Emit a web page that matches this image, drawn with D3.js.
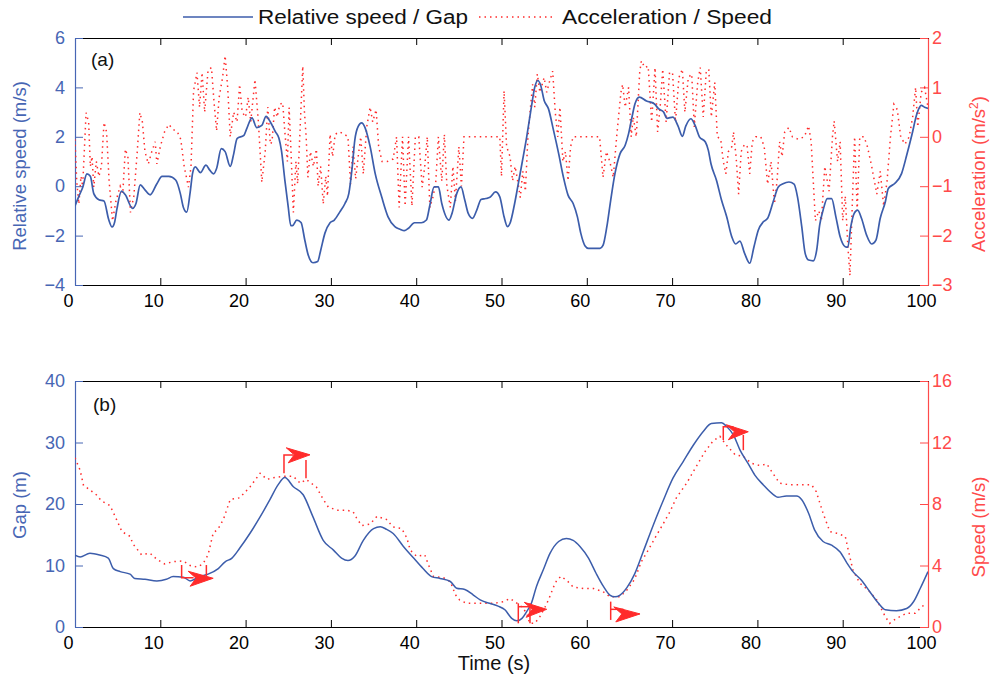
<!DOCTYPE html>
<html><head><meta charset="utf-8">
<script src="https://cdn.jsdelivr.net/npm/d3@7"></script>
<style>body{margin:0;background:#fff}svg{display:block}</style>
</head><body>
<svg id="c" width="995" height="679"></svg>
<script>
// ---------- data ----------
const xTicks = [0,10,20,30,40,50,60,70,80,90,100];
const relSpeedTicks = [-4,-2,0,2,4,6];
const accelTicks = [-3,-2,-1,0,1,2];
const gapTicks = [0,10,20,30,40];
const speedTicks = [0,4,8,12,16];
const legendLabels = ["Relative speed / Gap", "Acceleration / Speed"];

const relSpeed = [[0,-0.8],[0.4,-0.45],[0.9,-0.05],[1.4,0.5],[1.8,0.4],[2.2,-0.3],[2.8,-0.55],[3.4,-0.6],[3.95,-1.35],[4.35,-1.65],[4.65,-1.45],[4.9,-0.95],[5.45,-0.2],[5.9,-0.35],[6.75,-0.9],[7.15,-0.7],[7.65,0.05],[8.2,-0.15],[8.8,-0.35],[9.6,0.1],[10.2,0.4],[11.0,0.4],[11.8,0.25],[12.35,-0.3],[12.7,-0.85],[13.1,-1.05],[13.5,-0.25],[13.8,0.55],[14.1,0.78],[14.7,0.55],[15.35,0.85],[15.8,0.65],[16.25,0.5],[16.6,0.72],[17.15,1.52],[17.6,1.4],[18.2,0.8],[18.6,1.3],[19.0,1.93],[19.8,2.06],[20.1,2.3],[20.75,2.77],[21.3,2.37],[21.9,2.46],[22.4,2.83],[22.9,2.6],[23.5,2.2],[23.9,1.95],[24.2,1.45],[24.6,0.25],[25.0,-0.85],[25.3,-1.6],[25.5,-1.6],[26.0,-1.37],[26.5,-1.47],[26.95,-2.2],[27.35,-2.8],[27.9,-3.1],[28.45,-3.05],[28.8,-2.6],[29.3,-1.9],[29.9,-1.48],[30.4,-1.37],[31.05,-1.04],[31.65,-0.7],[32.1,-0.3],[32.5,0.78],[32.8,1.86],[33.2,2.42],[33.6,2.56],[34.0,2.37],[34.6,1.6],[35.2,0.5],[35.95,-0.43],[36.7,-1.24],[37.5,-1.64],[38.1,-1.74],[38.6,-1.8],[39.1,-1.7],[39.8,-1.48],[40.6,-1.48],[41.2,-1.37],[41.6,-0.77],[42.1,-0.03],[42.6,-0.03],[43.0,-0.7],[43.85,-1.37],[44.2,-1.1],[44.75,-0.3],[45.25,-0.03],[45.7,-0.57],[46.1,-1.1],[46.6,-1.3],[47.1,-0.97],[47.6,-0.54],[48.15,-0.5],[48.65,-0.45],[49.3,-0.23],[49.8,-0.43],[50.3,-1.24],[50.7,-1.64],[51.0,-1.5],[51.5,-0.77],[51.9,-0.03],[52.4,0.92],[52.95,1.99],[53.5,3.2],[53.9,4.01],[54.25,4.28],[54.6,4.08],[55.0,3.47],[55.5,3.14],[56.1,2.26],[56.7,1.32],[57.25,0.38],[57.8,-0.36],[58.4,-0.7],[58.9,-1.24],[59.3,-1.91],[59.8,-2.42],[60.2,-2.52],[61.55,-2.52],[61.9,-2.4],[62.35,-1.64],[62.8,-0.57],[63.3,0.51],[63.9,1.32],[64.5,1.66],[64.9,2.13],[65.3,2.8],[65.65,3.34],[66.15,3.61],[67.0,3.45],[67.9,3.34],[68.4,3.14],[69.0,3.0],[69.4,2.75],[70.1,2.8],[70.7,2.43],[71.2,2.02],[71.6,2.43],[72.2,2.73],[72.7,2.46],[73.2,2.0],[73.9,1.79],[74.25,1.45],[74.55,0.92],[75.2,0.24],[75.8,-0.57],[76.4,-1.24],[77.0,-2.05],[77.45,-2.34],[77.95,-2.22],[78.5,-2.72],[79.1,-3.12],[79.6,-2.45],[80.1,-1.78],[80.7,-1.44],[81.2,-1.3],[81.85,-0.63],[82.45,-0.03],[83.0,0.1],[83.7,0.17],[84.3,0.08],[84.7,-0.43],[85.2,-1.64],[85.6,-2.72],[86.0,-2.99],[86.55,-3.02],[86.95,-2.59],[87.3,-1.58],[87.7,-0.97],[88.2,-0.5],[88.7,-0.5],[89.2,-1.24],[89.7,-2.05],[90.3,-2.45],[90.6,-2.47],[90.95,-1.64],[91.35,-1.1],[91.75,-0.97],[92.2,-1.3],[92.8,-1.98],[93.4,-2.34],[93.9,-2.18],[94.4,-1.3],[95.0,-0.63],[95.35,-0.09],[96.1,0.11],[96.9,0.51],[97.5,1.25],[98.1,2.06],[98.7,2.93],[99.2,3.27],[99.6,3.2],[100,3.15]];

const accel = [[0,-0.05],[0.2,-0.9],[0.45,-1.36],[0.7,-0.8],[0.9,-1.0],[1.3,0.49],[1.6,0.3],[1.8,-0.6],[2.0,-0.4],[2.2,-1.02],[2.5,-0.5],[2.8,-0.8],[3.1,-0.6],[3.4,0.29],[3.7,0.1],[4.0,-0.9],[4.4,-1.7],[4.8,-1.3],[5.3,-1.0],[5.6,-1.15],[5.9,-0.25],[6.2,-0.4],[6.5,-1.53],[6.9,-1.2],[7.3,-0.3],[7.6,0.49],[7.9,0.3],[8.2,-0.3],[8.6,-0.55],[9.0,-0.3],[9.4,-0.1],[9.6,-0.55],[10.0,-0.2],[10.5,0.1],[11.0,0.25],[11.5,0.15],[12.0,0.1],[12.4,-0.05],[12.8,-0.6],[13.3,-1.02],[13.6,-0.6],[13.9,0.93],[14.3,1.3],[14.6,0.6],[14.9,1.3],[15.2,0.5],[15.6,1.35],[16.0,1.4],[16.3,0.7],[16.6,0.12],[16.9,0.8],[17.3,1.2],[17.6,1.64],[17.9,1.0],[18.2,0.0],[18.6,0.5],[19.0,0.3],[19.3,1.06],[19.6,0.5],[20.0,0.4],[20.3,0.8],[20.6,0.3],[21.1,1.16],[21.5,0.3],[21.9,-0.92],[22.3,-0.3],[22.6,0.6],[22.9,-0.15],[23.1,-0.1],[23.4,0.6],[23.7,0.4],[24.0,0.65],[24.35,0.69],[24.6,0.1],[24.9,-0.5],[25.1,0.59],[25.3,-0.2],[25.6,-1.53],[25.9,-0.5],[26.1,-0.95],[26.3,-0.2],[26.7,1.43],[26.9,0.5],[27.1,0.0],[27.3,-0.82],[27.6,-0.3],[27.95,-0.6],[28.3,-0.25],[28.5,-1.0],[28.8,-0.6],[29.1,-1.36],[29.4,-0.8],[29.6,-1.2],[29.9,0.05],[30.2,-0.4],[30.5,0.05],[31.0,0.1],[31.6,0.05],[32.0,0.0],[32.3,-0.96],[32.6,-0.2],[32.9,-0.85],[33.2,-0.4],[33.5,0.0],[33.8,-0.75],[34.2,0.2],[34.6,0.6],[34.9,0.3],[35.3,0.55],[35.6,-0.2],[36.0,-0.5],[36.6,-0.5],[37.3,-0.45],[37.7,0.0],[38.0,-1.43],[38.4,0.0],[38.7,-1.4],[39.1,0.0],[39.5,-1.4],[39.9,0.0],[40.3,0.0],[40.7,-1.02],[41.0,-0.6],[41.3,0.0],[41.6,-1.43],[42.0,-1.2],[42.3,-0.9],[42.6,0.0],[43.0,-0.9],[43.3,0.05],[43.6,-1.0],[44.0,-1.43],[44.3,-0.6],[44.6,-1.3],[45.0,-0.2],[45.3,-1.0],[45.6,0.0],[49.8,0.0],[50.0,-0.8],[50.3,0.93],[50.6,-0.2],[51.0,-0.4],[51.3,-0.89],[51.6,-0.6],[52.0,-1.0],[52.2,-1.23],[52.5,-0.7],[52.8,-1.1],[53.1,0.0],[53.4,0.6],[53.65,1.06],[53.9,0.6],[54.2,1.27],[54.5,0.9],[55.0,1.2],[55.3,0.9],[55.6,1.1],[56.0,1.33],[56.3,0.5],[56.6,0.0],[56.85,0.6],[57.2,-0.5],[57.5,-0.3],[57.8,-0.89],[58.1,-0.2],[58.4,0.0],[61.5,0.0],[61.9,-0.82],[62.3,-0.3],[62.7,-0.5],[63.1,-0.82],[63.5,0.0],[64.0,0.9],[64.2,1.06],[64.5,0.6],[64.9,1.0],[65.2,0.0],[65.45,0.4],[65.8,0.0],[66.2,1.3],[66.4,1.54],[66.8,1.4],[67.2,1.43],[67.6,0.3],[68.0,1.4],[68.3,0.1],[68.6,0.6],[68.9,1.37],[69.3,0.3],[69.7,1.3],[70.05,1.3],[70.4,0.3],[70.8,1.2],[71.2,1.37],[71.5,0.5],[71.9,1.2],[72.3,1.27],[72.6,0.2],[73.0,1.1],[73.3,1.4],[73.65,0.4],[74.0,1.3],[74.3,1.37],[74.6,0.4],[75.0,1.1],[75.3,0.0],[75.7,-0.05],[76.0,-0.5],[76.3,-0.75],[76.6,-0.3],[77.0,-0.2],[77.2,0.1],[77.5,-0.4],[77.8,-1.16],[78.1,-0.3],[78.5,-0.15],[78.8,-0.2],[79.1,-0.75],[79.4,-0.1],[79.8,0.0],[80.4,0.0],[80.8,-0.2],[81.2,-0.96],[81.6,-0.5],[82.0,-1.36],[82.3,-0.9],[82.6,-0.1],[82.9,-0.4],[83.2,0.1],[83.7,0.19],[84.1,0.0],[84.8,-0.05],[85.5,0.0],[86.0,0.22],[86.3,-0.1],[86.8,-1.7],[87.2,-1.5],[87.5,-1.7],[87.9,-0.6],[88.4,-1.1],[88.8,0.0],[89.0,0.32],[89.4,-0.5],[89.7,-0.1],[90.0,-1.7],[90.3,-1.2],[90.6,-2.2],[90.85,-2.81],[91.1,-1.5],[91.4,0.0],[91.7,-1.5],[92.0,0.0],[92.5,0.0],[92.9,-0.2],[93.4,-0.6],[94.0,-1.16],[94.4,-0.7],[94.8,-1.4],[95.2,-0.9],[95.6,0.0],[96.0,0.66],[96.4,0.55],[96.8,0.0],[97.3,-0.15],[97.8,0.0],[98.2,0.4],[98.55,1.0],[98.8,0.2],[99.2,0.9],[99.6,1.0],[100,0.6]];

const gap = [[0,11.7],[0.6,11.4],[1.75,12.0],[2.9,11.7],[3.9,11.2],[4.5,9.5],[5.3,9.0],[6.45,8.6],[7.0,7.9],[8.2,7.75],[9.6,7.5],[10.7,7.75],[11.5,8.2],[12.7,8.1],[13.5,7.5],[14.6,8.2],[15.6,8.6],[16.8,9.5],[17.6,10.6],[18.4,11.2],[19.3,12.8],[20.5,15.2],[21.7,17.9],[22.85,20.7],[23.8,23.1],[24.6,24.3],[25.6,22.8],[26.75,21.5],[27.9,17.9],[29.1,14.1],[30.3,12.5],[31.25,11.2],[32.0,10.8],[32.8,11.5],[33.8,14.1],[35.0,16.0],[35.8,16.3],[36.5,15.9],[37.3,15.2],[38.5,13.1],[39.7,11.2],[40.8,9.5],[41.8,8.2],[42.8,7.9],[44.0,7.4],[44.75,6.3],[45.7,6.1],[46.7,5.2],[47.5,4.4],[48.6,3.85],[49.6,3.4],[50.4,2.8],[51.2,1.4],[51.8,1.0],[52.4,1.4],[52.95,2.5],[53.5,3.85],[54.1,6.6],[54.9,9.3],[55.7,12.0],[56.7,13.9],[57.6,14.4],[58.4,14.1],[59.2,13.1],[60.2,11.2],[61.1,8.7],[61.95,6.6],[62.7,5.2],[63.3,4.9],[63.9,5.2],[64.7,6.4],[65.6,8.6],[66.6,12.2],[67.8,16.6],[69.0,20.7],[70.1,24.2],[71.3,26.9],[72.5,29.6],[73.65,31.8],[74.6,33.1],[75.8,33.2],[76.4,32.6],[77.2,31.2],[77.95,28.8],[78.9,26.6],[79.7,24.7],[80.7,23.1],[81.9,21.5],[82.4,21.1],[83.4,21.3],[84.6,21.3],[85.2,20.7],[86.0,18.5],[86.7,15.8],[87.7,13.9],[88.7,13.3],[89.7,12.2],[90.5,10.4],[91.2,9.0],[92.2,7.6],[93.2,5.7],[94.2,3.85],[95.0,2.8],[96.3,2.65],[97.5,3.0],[98.3,4.1],[99.1,6.3],[100,9.0]];

const speed = [[0,11.0],[0.6,10.2],[1.0,9.2],[1.55,9.0],[2.5,8.6],[3.1,8.2],[4.1,7.9],[4.7,7.2],[5.5,6.2],[6.45,5.9],[6.8,5.4],[7.8,4.7],[8.8,4.8],[9.6,4.4],[10.5,4.1],[11.5,4.25],[12.7,4.3],[13.5,4.0],[14.3,3.9],[15.0,4.1],[15.6,4.7],[16.2,6.1],[16.8,6.4],[17.4,7.0],[18.2,8.3],[19.3,8.4],[20.5,9.1],[21.7,10.0],[22.5,9.6],[23.2,9.7],[24.4,9.8],[25.6,9.8],[26.4,9.35],[27.1,9.6],[28.3,9.1],[29.1,8.3],[29.7,7.8],[30.7,7.6],[31.8,7.6],[32.6,7.5],[33.0,7.1],[33.6,6.6],[34.6,6.7],[35.4,7.2],[36.5,7.0],[37.3,6.5],[38.3,6.4],[38.9,5.8],[39.3,5.0],[40.05,4.6],[41.0,4.7],[41.4,4.1],[42.0,3.3],[43.2,3.2],[44.0,2.95],[44.6,2.1],[45.1,1.75],[45.9,1.55],[49.2,1.55],[50.2,1.65],[51.0,1.85],[51.8,1.55],[52.4,1.3],[52.95,0.9],[53.3,0.24],[53.9,0.24],[54.5,0.67],[55.1,1.3],[55.5,1.75],[56.1,2.6],[56.5,3.06],[57.0,3.3],[57.8,2.95],[58.4,2.6],[59.6,2.5],[60.8,2.5],[61.9,2.3],[62.7,1.97],[63.9,1.97],[64.7,2.4],[65.6,3.1],[66.4,4.25],[67.2,5.0],[68.0,5.8],[69.0,6.75],[69.75,7.5],[70.5,8.4],[71.7,9.35],[72.9,10.5],[73.85,11.4],[74.8,12.1],[75.6,12.4],[76.4,11.8],[77.4,11.2],[78.35,11.1],[79.3,10.65],[80.3,10.5],[81.1,10.6],[82.05,9.8],[82.6,9.35],[83.8,9.25],[86.35,9.25],[86.9,8.8],[87.7,7.4],[88.5,6.2],[89.3,6.1],[90.3,5.9],[90.65,5.0],[91.2,3.7],[92.0,2.85],[93.0,2.4],[94.0,1.75],[95.0,0.67],[95.5,0.24],[96.3,0.56],[97.5,0.9],[98.5,0.9],[99.25,1.3],[99.7,1.5]];

// event markers on the speed axis: arrow from t0 to t1 at speed v
const markerArrows = [[13.5,16.2,3.17],[25.0,27.55,11.2],[52.9,55.3,1.15],[63.4,66.24,0.85],[76.6,78.93,12.7]];
// bracket polylines (time, speed)
const markerLines = [
  [[12.5,4.03],[12.5,3.2],[13.9,3.2]], [[15.4,4.03],[15.4,3.27]],
  [[24.5,10.0],[24.5,11.19],[25.6,11.19]], [[27.08,10.86],[27.08,9.67]],
  [[51.97,1.54],[51.97,0.24]], [[53.34,1.54],[53.34,0.24]], [[51.97,1.32],[53.34,1.32]],
  [[62.8,1.65],[62.8,0.46]], [[62.8,1.15],[64.3,1.15]],
  [[76.0,12.16],[76.0,13.03],[77.2,13.03]], [[78.35,12.49],[78.35,11.5]]
];

// ---------- drawing ----------
const BLUE = "#3c5dab", RED = "#ff2b2b", AXBLUE = "#4766b4", AXRED = "#ff4a4a";
const FONT = "'Liberation Sans', Arial, sans-serif";
const FS = 18;
const svg = d3.select("#c");
const x = d3.scaleLinear().domain([0,100]).range([75,928]);

function panel(top, bottom, leftDom, leftTicks, rightDom, rightTicks, id) {
  const yL = d3.scaleLinear().domain(leftDom).range([bottom, top]);
  const yR = d3.scaleLinear().domain(rightDom).range([bottom, top]);
  svg.append("clipPath").attr("id", id).append("rect")
    .attr("x", 75).attr("y", top).attr("width", 853).attr("height", bottom - top);
  const gb = svg.append("g").attr("transform", `translate(0,${bottom})`)
    .call(d3.axisBottom(x).tickValues(xTicks).tickSizeInner(-7).tickSizeOuter(0).tickPadding(5).tickFormat(d3.format("d")));
  gb.selectAll("text").attr("dx", -7).attr("dy", "0.95em");
  svg.append("g").attr("transform", `translate(0,${top})`)
    .call(d3.axisTop(x).tickValues(xTicks).tickSizeInner(-7).tickSizeOuter(0).tickFormat(""));
  const gl = svg.append("g").attr("transform", `translate(75,0)`)
    .call(d3.axisLeft(yL).tickValues(leftTicks).tickSizeInner(-8).tickSizeOuter(0).tickPadding(10).tickFormat(d3.format("d")));
  gl.selectAll("line, path").attr("stroke", AXBLUE);
  gl.selectAll("text").attr("fill", AXBLUE);
  const gr = svg.append("g").attr("transform", `translate(928,0)`)
    .call(d3.axisRight(yR).tickValues(rightTicks).tickSizeInner(-8).tickSizeOuter(0).tickPadding(4).tickFormat(d3.format("d")));
  gr.selectAll("line, path").attr("stroke", AXRED);
  gr.selectAll("text").attr("fill", AXRED);
  svg.selectAll(".tick text").attr("font-size", FS).attr("font-family", FONT);
  svg.selectAll(".domain").attr("stroke-width", 1.2);
  return {yL, yR};
}

const A = panel(38, 285, [-4,6], relSpeedTicks, [-3,2], accelTicks, "clipA");
const B = panel(381, 627, [0,40], gapTicks, [0,16], speedTicks, "clipB");

const dotted = "1.5,4";
function line(data, y, curve) {
  return d3.line().x(d => x(d[0])).y(d => y(d[1])).curve(curve)(data);
}
const gA = svg.append("g").attr("clip-path", "url(#clipA)");
gA.append("path").attr("d", line(accel, A.yR, d3.curveLinear))
  .attr("fill", "none").attr("stroke", RED).attr("stroke-width", 1.5).attr("stroke-dasharray", dotted);
gA.append("path").attr("d", line(relSpeed, A.yL, d3.curveMonotoneX))
  .attr("fill", "none").attr("stroke", BLUE).attr("stroke-width", 1.7);

const gB = svg.append("g").attr("clip-path", "url(#clipB)");
gB.append("path").attr("d", line(speed, B.yR, d3.curveLinear))
  .attr("fill", "none").attr("stroke", RED).attr("stroke-width", 1.5).attr("stroke-dasharray", dotted);
gB.append("path").attr("d", line(gap, B.yL, d3.curveMonotoneX))
  .attr("fill", "none").attr("stroke", BLUE).attr("stroke-width", 1.5);

// markers
markerLines.forEach(pl => {
  svg.append("path").attr("d", d3.line().x(d => x(d[0])).y(d => B.yR(d[1]))(pl))
    .attr("fill", "none").attr("stroke", RED).attr("stroke-width", 1.5);
});
markerArrows.forEach(m => {
  const x0 = x(m[0]), x1 = x(m[1]), yy = B.yR(m[2]);
  const pts = [[x1, yy], [x0 - 2, yy - 7], [x0 + 6, yy], [x0, yy + 8]];
  svg.append("path").attr("d", "M" + pts.map(p => p.join(",")).join("L") + "Z")
    .attr("fill", RED).attr("stroke", RED).attr("stroke-width", 1);
});

// panel letters
svg.append("text").attr("x", 91).attr("y", 66).text("(a)")
  .attr("font-family", FONT).attr("font-size", 19).attr("fill", "#111");
svg.append("text").attr("x", 93).attr("y", 411).text("(b)")
  .attr("font-family", FONT).attr("font-size", 19).attr("fill", "#111");

// axis titles
function vtitle(tx, ty, color, build) {
  const t = svg.append("text").attr("transform", `translate(${tx},${ty}) rotate(-90)`)
    .attr("text-anchor", "middle").attr("font-family", FONT).attr("font-size", 18.5).attr("fill", color);
  build(t);
}
vtitle(26, 166, AXBLUE, t => t.text("Relative speed (m/s)"));
vtitle(985, 174, AXRED, t => { t.append("tspan").text("Acceleration (m/s");
  t.append("tspan").attr("font-size", 12).attr("dy", -7).text("2");
  t.append("tspan").attr("dy", 7).text(")"); });
vtitle(26, 505, AXBLUE, t => t.text("Gap (m)"));
vtitle(985, 527, AXRED, t => t.text("Speed (m/s)"));
svg.append("text").attr("x", 494).attr("y", 670).attr("text-anchor", "middle")
  .attr("font-family", FONT).attr("font-size", 20).attr("fill", "#111").text("Time (s)");

// legend
const lg = svg.append("g");
lg.append("line").attr("x1", 183).attr("x2", 253).attr("y1", 17).attr("y2", 17)
  .attr("stroke", BLUE).attr("stroke-width", 1.6);
lg.append("text").attr("x", 258).attr("y", 24).text(legendLabels[0])
  .attr("font-family", FONT).attr("font-size", 20).attr("fill", "#111")
  .attr("textLength", 210).attr("lengthAdjust", "spacingAndGlyphs");
lg.append("line").attr("x1", 479).attr("x2", 552).attr("y1", 17).attr("y2", 17)
  .attr("stroke", RED).attr("stroke-width", 1.5).attr("stroke-dasharray", dotted);
lg.append("text").attr("x", 562).attr("y", 24).text(legendLabels[1])
  .attr("font-family", FONT).attr("font-size", 20).attr("fill", "#111")
  .attr("textLength", 210).attr("lengthAdjust", "spacingAndGlyphs");
</script>
</body></html>
